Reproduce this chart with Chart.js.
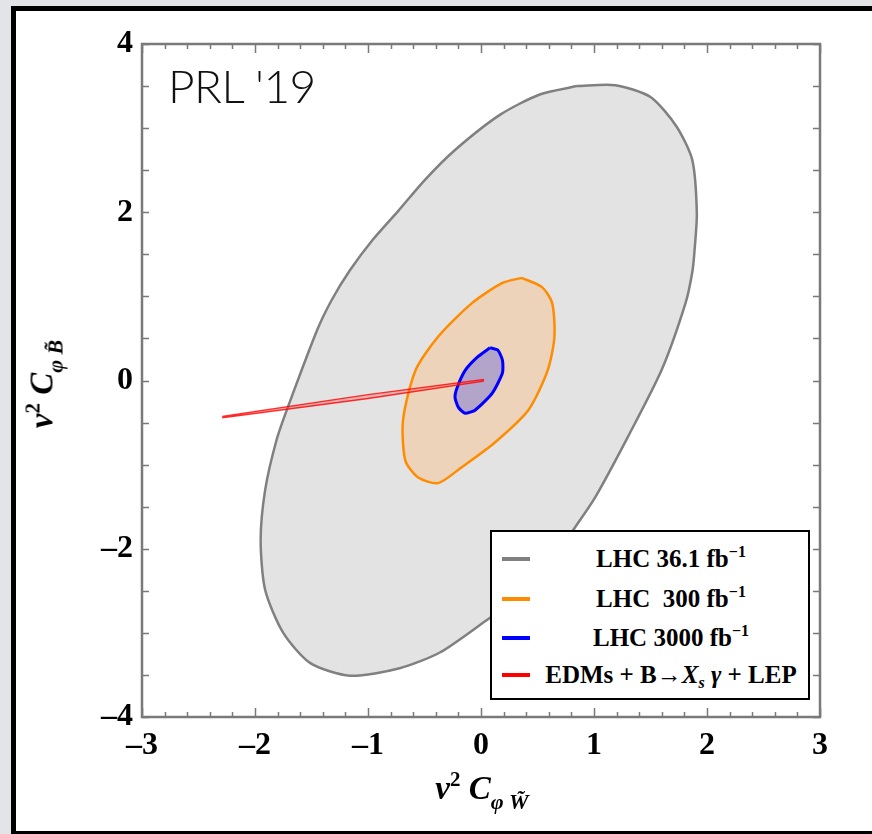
<!DOCTYPE html>
<html>
<head>
<meta charset="utf-8">
<script src="https://cdn.jsdelivr.net/npm/chart.js@4.4.1/dist/chart.umd.min.js"></script>
<style>
  html, body { margin: 0; padding: 0; width: 872px; height: 834px; overflow: hidden; background: #e2e4e7; }
  #frame { position: absolute; left: 11px; top: 6px; width: 880px; height: 820px; background: #fff;
           border-left: 5px solid #000; border-top: 5px solid #000; border-bottom: 4px solid #000; }
  #c { position: absolute; left: 0; top: 0; }
  .serif { font-family: "Liberation Serif", "Times New Roman", serif; font-weight: bold; }
  #prl { position: absolute; left: 168px; top: 58px; font-family: Lato, "Noto Sans", sans-serif; font-weight: 300;
         font-size: 46px; color: #111; letter-spacing: -0.5px; }
  #legend { position: absolute; left: 490px; top: 530px; width: 316px; height: 166px; border: 2px solid #000; background: #fff; }
  .row { position: absolute; left: 0; width: 316px; height: 30px; }
  .sw { position: absolute; left: 10px; width: 28px; height: 4px; top: 13px; }
  .lt { position: absolute; left: 46px; right: 4px; top: 0; text-align: center; font-size: 25px; line-height: 30px; color: #000; white-space: nowrap; }
  .lt sup { font-size: 16px; vertical-align: 10px; line-height: 0; }
  .lt sub { font-size: 16px; vertical-align: -5px; line-height: 0; }
  #xt { position: absolute; left: 372px; top: 770px; width: 220px; text-align: center; font-size: 33px; font-style: italic; white-space: nowrap; }
  #yt { position: absolute; left: 42px; top: 384px; width: 220px; text-align: center; font-size: 33px; font-style: italic; white-space: nowrap;
        transform: translate(-50%, -50%) rotate(-90deg); transform-origin: 50% 50%; }
  #xt sup, #yt sup { font-size: 21px; vertical-align: 13px; line-height: 0; font-style: normal; }
  #xt sub, #yt sub { font-size: 22px; vertical-align: -10px; line-height: 0; }
</style>
</head>
<body>
<div id="frame"></div>
<canvas id="c" width="872" height="834"></canvas>
<div id="prl">PRL '19</div>
<div id="legend">
  <div class="row" style="top:12px"><div class="sw" style="background:#808080"></div><div class="lt serif">LHC 36.1 fb<sup>−1</sup></div></div>
  <div class="row" style="top:52px"><div class="sw" style="background:#ff8c00"></div><div class="lt serif">LHC&nbsp; 300 fb<sup>−1</sup></div></div>
  <div class="row" style="top:91px"><div class="sw" style="background:#0000ff"></div><div class="lt serif">LHC 3000 fb<sup>−1</sup></div></div>
  <div class="row" style="top:128px"><div class="sw" style="background:#ff0000"></div><div class="lt serif">EDMs + B→<i>X<sub>s</sub></i> <i>γ</i> + LEP</div></div>
</div>
<div id="xt" class="serif">v<sup>2</sup> C<sub>φ W̃</sub></div>
<div id="yt" class="serif">v<sup>2</sup> C<sub>φ B̃</sub></div>
<script>
// ---- data ----
const xTicks = [-3, -2, -1, 0, 1, 2, 3];
const yTicks = [-4, -2, 0, 2, 4];

const lhc36X = [0.85, 1.19, 1.50, 1.73, 1.87, 1.91, 1.89, 1.87, 1.81, 1.60, 1.30, 1.01, 0.83, 0.57, 0.35, 0.08, -0.36, -0.72, -1.16, -1.51, -1.75, -1.91, -1.95, -1.91, -1.81, -1.71, -1.45, -1.32, -1.16, -0.96, -0.73, -0.50, -0.23, 0.17, 0.52, 0.85];
const lhc36Y = [3.50, 3.51, 3.37, 3.02, 2.62, 1.99, 1.55, 1.29, 0.92, 0.13, -0.67, -1.39, -1.75, -2.25, -2.57, -2.82, -3.23, -3.42, -3.51, -3.36, -3.00, -2.49, -1.90, -1.30, -0.71, -0.32, 0.60, 0.96, 1.31, 1.67, 2.02, 2.38, 2.74, 3.16, 3.40, 3.50];

const lhc300X = [0.36, 0.54, 0.63, 0.65, 0.59, 0.42, 0.12, -0.17, -0.38, -0.56, -0.67, -0.69, -0.58, -0.38, -0.08, 0.19, 0.36];
const lhc300Y = [1.22, 1.11, 0.92, 0.52, 0.12, -0.35, -0.74, -1.03, -1.22, -1.15, -0.95, -0.47, 0.12, 0.52, 0.92, 1.16, 1.22];

const lhc3000X = [0.08, 0.15, 0.19, 0.19, 0.10, -0.05, -0.14, -0.20, -0.23, -0.21, -0.14, -0.03, 0.08];
const lhc3000Y = [0.39, 0.36, 0.24, 0.09, -0.15, -0.35, -0.39, -0.32, -0.20, -0.08, 0.12, 0.28, 0.39];

const edmX = [-2.29, -1.00, 0.02, 0.02, -1.00, -2.29];
const edmY = [-0.428, -0.168, 0.012, -0.008, -0.214, -0.442];

const pts = (xs, ys) => xs.map((x, i) => ({x, y: ys[i]}));

const polyFill = {
  id: 'polyFill',
  beforeDatasetDraw(chart, args) {
    const ds = chart.data.datasets[args.index];
    if (!ds.polyFill) return;
    const ctx = chart.ctx, a = chart.chartArea;
    ctx.save();
    ctx.beginPath(); ctx.rect(a.left, a.top, a.right - a.left, a.bottom - a.top); ctx.clip();
    ctx.beginPath();
    const line = args.meta.dataset;
    if (line && typeof line.path === 'function') {
      line.path(ctx);
    } else {
      args.meta.data.forEach((p, i) => i ? ctx.lineTo(p.x, p.y) : ctx.moveTo(p.x, p.y));
    }
    ctx.closePath();
    ctx.fillStyle = ds.polyFill;
    ctx.fill();
    ctx.restore();
  }
};

const frameTicks = {
  id: 'frameTicks',
  afterDatasetsDraw(chart) {
    const ctx = chart.ctx, a = chart.chartArea;
    const xs = chart.scales.x, ys = chart.scales.y;
    ctx.save();
    ctx.strokeStyle = '#7a7a7a';
    ctx.lineWidth = 1.5;
    ctx.beginPath();
    for (let k = -30; k <= 30; k += 2) {
      const v = k / 10;
      const px = Math.round(xs.getPixelForValue(v)) + 0.5;
      const len = (k % 10 === 0) ? 9 : 5;
      ctx.moveTo(px, a.bottom); ctx.lineTo(px, a.bottom - len);
      ctx.moveTo(px, a.top); ctx.lineTo(px, a.top + len);
    }
    for (let k = -8; k <= 8; k++) {
      const v = k / 2;
      const py = Math.round(ys.getPixelForValue(v)) + 0.5;
      const len = 7;
      ctx.moveTo(a.left, py); ctx.lineTo(a.left + len, py);
      ctx.moveTo(a.right, py); ctx.lineTo(a.right - len, py);
    }
    ctx.stroke();
    ctx.lineWidth = 2.5;
    ctx.strokeRect(a.left, a.top, a.right - a.left, a.bottom - a.top);
    ctx.restore();
  }
};

const fmt = v => (v < 0 ? '–' + Math.abs(v) : String(v));

new Chart(document.getElementById('c'), {
  type: 'scatter',
  data: {
    datasets: [
      { label: 'EDMs', data: pts(edmX, edmY), showLine: true, order: 1, borderColor: 'rgba(255,0,0,0.8)', borderWidth: 1.5,
        polyFill: 'rgba(255,80,80,0.35)', pointRadius: 0, tension: 0 },
      { label: 'LHC 3000', data: pts(lhc3000X, lhc3000Y), showLine: true, order: 2, borderColor: '#0000ff', borderWidth: 3,
        polyFill: '#b3a5ca', pointRadius: 0, tension: 0.2 },
      { label: 'LHC 300', data: pts(lhc300X, lhc300Y), showLine: true, order: 3, borderColor: '#ff8c00', borderWidth: 2.5,
        polyFill: '#ecd3b9', pointRadius: 0, tension: 0.25 },
      { label: 'LHC 36.1', data: pts(lhc36X, lhc36Y), showLine: true, order: 4, borderColor: '#808080', borderWidth: 2.5,
        polyFill: '#e3e3e3', pointRadius: 0, tension: 0.25 }
    ]
  },
  options: {
    responsive: false,
    animation: false,
    events: [],
    layout: { padding: { left: 0, top: 44, right: 52, bottom: 0 } },
    plugins: { legend: { display: false }, tooltip: { enabled: false } },
    scales: {
      x: {
        type: 'linear', min: -3, max: 3,
        afterFit: s => { s.height = 117; },
        afterBuildTicks: s => { s.ticks = xTicks.map(v => ({value: v})); },
        grid: { display: false, drawTicks: false }, border: { display: false },
        ticks: { padding: 10, color: '#000', font: { family: '"Liberation Serif", serif', weight: 'bold', size: 32 }, callback: fmt, maxRotation: 0 }
      },
      y: {
        type: 'linear', min: -4, max: 4,
        afterFit: s => { s.width = 142; },
        afterBuildTicks: s => { s.ticks = yTicks.map(v => ({value: v})); },
        grid: { display: false, drawTicks: false }, border: { display: false },
        ticks: { padding: 9, color: '#000', font: { family: '"Liberation Serif", serif', weight: 'bold', size: 32 }, callback: fmt }
      }
    }
  },
  plugins: [polyFill, frameTicks]
});
</script>
</body>
</html>
